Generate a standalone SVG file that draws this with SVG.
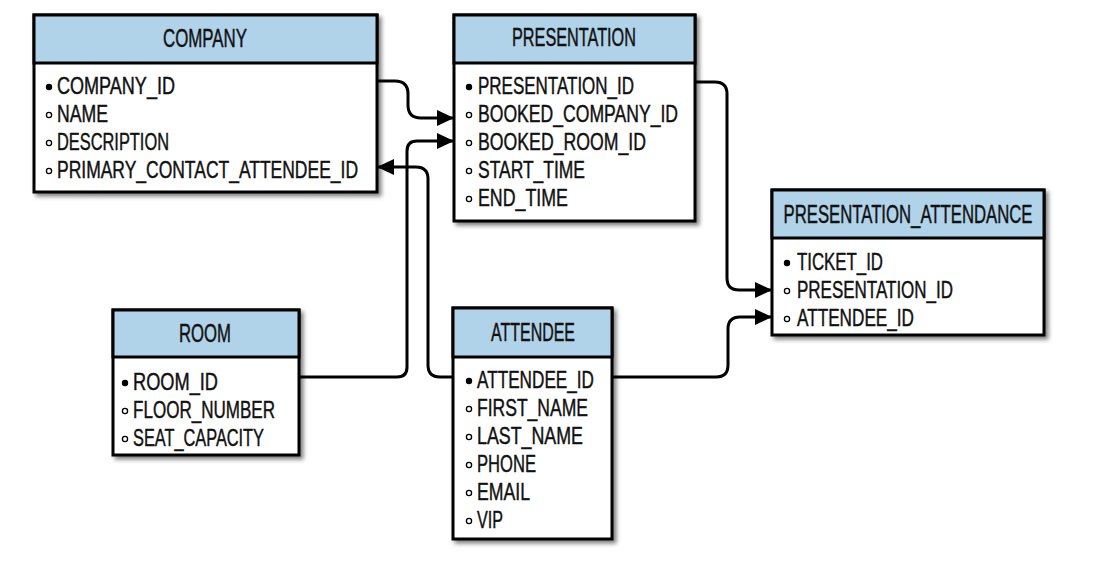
<svg xmlns="http://www.w3.org/2000/svg" width="1097" height="562" viewBox="0 0 1097 562">
<style>
.box{fill:#fff;stroke:#000;stroke-width:3}
.hdr{fill:#b1d3e9;stroke:#000;stroke-width:3}
.ht{font-family:"Liberation Sans",Arial,sans-serif;font-size:25px;text-anchor:middle;fill:#111;stroke:#111;stroke-width:0.45}
.rt{font-family:"Liberation Sans",Arial,sans-serif;font-size:24px;fill:#111;stroke:#111;stroke-width:0.45}
.pk{fill:#000}
.fk{fill:#fff;stroke:#000;stroke-width:1.3}
.conn{fill:none;stroke:#000;stroke-width:3;marker-end:url(#arr)}
</style>
<defs>
<filter id="sh" x="-10%" y="-10%" width="125%" height="125%">
<feDropShadow dx="3" dy="3" stdDeviation="2" flood-color="#000" flood-opacity="0.5"/>
</filter>
<marker id="arr" markerUnits="userSpaceOnUse" markerWidth="18" markerHeight="17" refX="17" refY="8" orient="auto">
<path d="M0,0 L17,8 L0,16 z" fill="#000"/>
</marker>
</defs>
<rect width="1097" height="562" fill="#fff"/>

<g id="connectors">
<path class="conn" d="M377,81 H395 Q408,81 408,94 V105 Q408,118 421,118 H454"/>
<path class="conn" d="M299,377 H397 Q407,377 407,367 V151 Q407,141 417,141 H454"/>
<path class="conn" d="M453,377 H440 Q428,377 428,365 V179 Q428,167 416,167 H377"/>
<path class="conn" d="M695,82 H715 Q727,82 727,94 V278 Q727,290 739,290 H772"/>
<path class="conn" d="M612,377 H716 Q728,377 728,365 V329 Q728,317 740,317 H772"/>
</g>

<g id="company">
<g filter="url(#sh)"><rect class="box" x="34" y="15" width="343" height="177"/></g>
<rect class="hdr" x="34" y="15" width="343" height="48"/>
<text class="ht" x="205" y="47" textLength="84" lengthAdjust="spacingAndGlyphs">COMPANY</text>
<circle class="pk" cx="49" cy="87" r="3.2"/>
<text class="rt" x="57" y="94" textLength="118" lengthAdjust="spacingAndGlyphs">COMPANY_ID</text>
<circle class="fk" cx="49" cy="115" r="2.6"/>
<text class="rt" x="57" y="122" textLength="51" lengthAdjust="spacingAndGlyphs">NAME</text>
<circle class="fk" cx="49" cy="143" r="2.6"/>
<text class="rt" x="57" y="150" textLength="112" lengthAdjust="spacingAndGlyphs">DESCRIPTION</text>
<circle class="fk" cx="49" cy="171" r="2.6"/>
<text class="rt" x="57" y="178" textLength="301" lengthAdjust="spacingAndGlyphs">PRIMARY_CONTACT_ATTENDEE_ID</text>
</g>

<g id="presentation">
<g filter="url(#sh)"><rect class="box" x="454" y="15" width="241" height="206"/></g>
<rect class="hdr" x="454" y="15" width="241" height="48"/>
<text class="ht" x="574" y="46" textLength="124" lengthAdjust="spacingAndGlyphs">PRESENTATION</text>
<circle class="pk" cx="469" cy="87" r="3.2"/>
<text class="rt" x="478" y="94" textLength="156" lengthAdjust="spacingAndGlyphs">PRESENTATION_ID</text>
<circle class="fk" cx="469" cy="115" r="2.6"/>
<text class="rt" x="478" y="122" textLength="200" lengthAdjust="spacingAndGlyphs">BOOKED_COMPANY_ID</text>
<circle class="fk" cx="469" cy="143" r="2.6"/>
<text class="rt" x="478" y="150" textLength="168" lengthAdjust="spacingAndGlyphs">BOOKED_ROOM_ID</text>
<circle class="fk" cx="469" cy="171" r="2.6"/>
<text class="rt" x="478" y="178" textLength="107" lengthAdjust="spacingAndGlyphs">START_TIME</text>
<circle class="fk" cx="469" cy="199" r="2.6"/>
<text class="rt" x="478" y="206" textLength="90" lengthAdjust="spacingAndGlyphs">END_TIME</text>
</g>

<g id="presentation_attendance">
<g filter="url(#sh)"><rect class="box" x="772" y="190" width="272" height="145"/></g>
<rect class="hdr" x="772" y="190" width="272" height="48"/>
<text class="ht" x="908" y="223" textLength="249" lengthAdjust="spacingAndGlyphs">PRESENTATION_ATTENDANCE</text>
<circle class="pk" cx="787" cy="263" r="3.2"/>
<text class="rt" x="797" y="270" textLength="86" lengthAdjust="spacingAndGlyphs">TICKET_ID</text>
<circle class="fk" cx="787" cy="291" r="2.6"/>
<text class="rt" x="797" y="298" textLength="156" lengthAdjust="spacingAndGlyphs">PRESENTATION_ID</text>
<circle class="fk" cx="787" cy="319" r="2.6"/>
<text class="rt" x="797" y="326" textLength="117" lengthAdjust="spacingAndGlyphs">ATTENDEE_ID</text>
</g>

<g id="room">
<g filter="url(#sh)"><rect class="box" x="113" y="310" width="186" height="145"/></g>
<rect class="hdr" x="113" y="310" width="186" height="47"/>
<text class="ht" x="205" y="342" textLength="52" lengthAdjust="spacingAndGlyphs">ROOM</text>
<circle class="pk" cx="125" cy="383" r="3.2"/>
<text class="rt" x="133" y="390" textLength="85" lengthAdjust="spacingAndGlyphs">ROOM_ID</text>
<circle class="fk" cx="125" cy="411" r="2.6"/>
<text class="rt" x="133" y="418" textLength="142" lengthAdjust="spacingAndGlyphs">FLOOR_NUMBER</text>
<circle class="fk" cx="125" cy="439" r="2.6"/>
<text class="rt" x="133" y="446" textLength="131" lengthAdjust="spacingAndGlyphs">SEAT_CAPACITY</text>
</g>

<g id="attendee">
<g filter="url(#sh)"><rect class="box" x="453" y="308" width="159" height="231"/></g>
<rect class="hdr" x="453" y="308" width="159" height="49"/>
<text class="ht" x="533" y="341" textLength="84" lengthAdjust="spacingAndGlyphs">ATTENDEE</text>
<circle class="pk" cx="469" cy="381" r="3.2"/>
<text class="rt" x="477" y="388" textLength="117" lengthAdjust="spacingAndGlyphs">ATTENDEE_ID</text>
<circle class="fk" cx="469" cy="409" r="2.6"/>
<text class="rt" x="477" y="416" textLength="111" lengthAdjust="spacingAndGlyphs">FIRST_NAME</text>
<circle class="fk" cx="469" cy="437" r="2.6"/>
<text class="rt" x="477" y="444" textLength="106" lengthAdjust="spacingAndGlyphs">LAST_NAME</text>
<circle class="fk" cx="469" cy="465" r="2.6"/>
<text class="rt" x="477" y="472" textLength="59" lengthAdjust="spacingAndGlyphs">PHONE</text>
<circle class="fk" cx="469" cy="493" r="2.6"/>
<text class="rt" x="477" y="500" textLength="53" lengthAdjust="spacingAndGlyphs">EMAIL</text>
<circle class="fk" cx="469" cy="521" r="2.6"/>
<text class="rt" x="477" y="528" textLength="26" lengthAdjust="spacingAndGlyphs">VIP</text>
</g>
</svg>
